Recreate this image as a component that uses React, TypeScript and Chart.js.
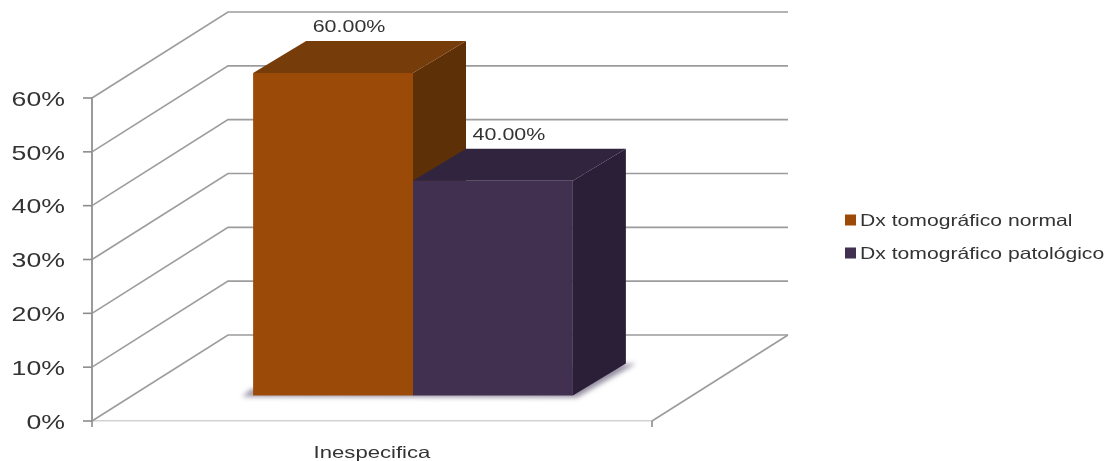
import { useEffect, useRef } from "react";
import { Chart, registerables } from "chart.js";

Chart.register(...registerables);

const categories = ["Inespecifica"];
const seriesNames = ["Dx tomográfico normal", "Dx tomográfico patológico"];
const normalValues = [60];
const pathologicValues = [40];
const valueLabels = ["60.00%", "40.00%"];

const FRONT_COLORS = ["#9C4A07", "#413050"];
const TOP_COLORS = ["#763D0A", "#31243F"];
const SIDE_COLORS = ["#5E3007", "#2A1F37"];
const GRID_COLOR = "#9c9c9c";
const TEXT_COLOR = "#333333";
const FONT_FAMILY = '"Liberation Sans", Arial, sans-serif';

// Oblique projection used for the walls and for the bars standing on the floor.
const WALL_DEPTH = { x: 136, y: -86 };
const BAR_OFFSET = { x: 41, y: -25 };
const BAR_DEPTH = { x: 53, y: -32 };

// Widened text, as the chart's captions are drawn broader than the typeface.
function wideText(
  ctx: CanvasRenderingContext2D,
  text: string,
  x: number,
  y: number,
  size: number,
  stretch: number,
  align: CanvasTextAlign,
) {
  ctx.save();
  ctx.translate(x, y);
  ctx.scale(stretch, 1);
  ctx.font = `${size}px ${FONT_FAMILY}`;
  ctx.fillStyle = TEXT_COLOR;
  ctx.textAlign = align;
  ctx.textBaseline = "middle";
  ctx.fillText(text, 0, 0);
  ctx.restore();
}

function polygon(ctx: CanvasRenderingContext2D, pts: number[][], fill: string) {
  ctx.fillStyle = fill;
  ctx.beginPath();
  pts.forEach(([x, y], i) => (i ? ctx.lineTo(x, y) : ctx.moveTo(x, y)));
  ctx.closePath();
  ctx.fill();
}

const perspective = {
  id: "perspective",
  beforeDraw(chart: any) {
    const { ctx, width, height } = chart;
    ctx.save();
    ctx.fillStyle = "#ffffff";
    ctx.fillRect(0, 0, width, height);
    ctx.restore();
  },
  beforeDatasetsDraw(chart: any) {
    const { ctx, chartArea, scales } = chart;
    const { left, right, bottom } = chartArea;

    // Side wall, back wall and the right edge of the floor.
    ctx.save();
    ctx.strokeStyle = GRID_COLOR;
    ctx.lineWidth = 1.6;
    scales.y.ticks.forEach((tick: any) => {
      const py = scales.y.getPixelForValue(tick.value);
      ctx.beginPath();
      ctx.moveTo(left, py);
      ctx.lineTo(left + WALL_DEPTH.x, py + WALL_DEPTH.y);
      ctx.lineTo(right + WALL_DEPTH.x, py + WALL_DEPTH.y);
      ctx.stroke();
    });
    ctx.beginPath();
    ctx.moveTo(right, bottom);
    ctx.lineTo(right + WALL_DEPTH.x, bottom + WALL_DEPTH.y);
    ctx.stroke();

    // Tick marks on both axes.
    ctx.strokeStyle = "#8c8c8c";
    ctx.lineWidth = 1.6;
    scales.y.ticks.forEach((tick: any) => {
      const py = scales.y.getPixelForValue(tick.value);
      ctx.beginPath();
      ctx.moveTo(left - 9, py);
      ctx.lineTo(left, py);
      ctx.stroke();
    });
    [left, right].forEach((px: number) => {
      ctx.beginPath();
      ctx.moveTo(px, bottom);
      ctx.lineTo(px, bottom + 6);
      ctx.stroke();
    });
    ctx.restore();

    const bars = chart.data.datasets.map((_: any, i: number) => chart.getDatasetMeta(i).data[0]);
    const geom = bars.map((bar: any) => {
      const half = bar.width / 2;
      return {
        l: bar.x - half + BAR_OFFSET.x,
        r: bar.x + half + BAR_OFFSET.x,
        t: bar.y + BAR_OFFSET.y,
        b: bar.base + BAR_OFFSET.y,
      };
    });

    // Soft shadow on the floor under the bars.
    const first = geom[0];
    const last = geom[geom.length - 1];
    ctx.save();
    ctx.filter = "blur(2.5px)";
    polygon(
      ctx,
      [
        [first.l - 11, first.b + 1],
        [first.l - 2, first.b - 6],
        [last.r + BAR_DEPTH.x + 10, last.b + BAR_DEPTH.y],
        [last.r + 4, last.b + 2],
      ],
      "rgba(80,70,100,0.6)",
    );
    ctx.restore();

    // Top and side faces, from the left bar to the right one.
    geom.forEach((g: any, i: number) => {
      const dx = BAR_DEPTH.x;
      const dy = BAR_DEPTH.y;
      polygon(ctx, [[g.r, g.t], [g.r + dx, g.t + dy], [g.r + dx, g.b + dy], [g.r, g.b]], SIDE_COLORS[i]);
      polygon(ctx, [[g.l, g.t], [g.l + dx, g.t + dy], [g.r + dx, g.t + dy], [g.r, g.t]], TOP_COLORS[i]);
    });

    // The front faces themselves are the chart's own bars, moved onto the floor.
    ctx.save();
    ctx.translate(BAR_OFFSET.x, BAR_OFFSET.y);
  },
  afterDatasetsDraw(chart: any) {
    const { ctx, scales, data } = chart;
    ctx.restore();

    // Value captions above each bar.
    data.datasets.forEach((_: any, i: number) => {
      const bar = chart.getDatasetMeta(i).data[0];
      wideText(ctx, valueLabels[i], bar.x + BAR_OFFSET.x + 16, bar.y + BAR_OFFSET.y - 45.5, 16.5, 1.3, "center");
    });

    // Axis labels.
    scales.y.ticks.forEach((tick: any) => {
      wideText(ctx, tick.label, 65, scales.y.getPixelForValue(tick.value) + 2, 21, 1.27, "right");
    });
    scales.x.ticks.forEach((tick: any, i: number) => {
      wideText(ctx, tick.label, scales.x.getPixelForTick(i), 453.5, 16.5, 1.34, "center");
    });

    // Legend entries.
    const legendY = [220, 253];
    data.datasets.forEach((ds: any, i: number) => {
      ctx.fillStyle = FRONT_COLORS[i];
      ctx.fillRect(845, legendY[i] - 5.5, 11, 11);
      wideText(ctx, ds.label, 860, legendY[i] + 1.5, 16.5, 1.28, "left");
    });
  },
};

export default function App() {
  const ref = useRef<HTMLCanvasElement>(null);

  useEffect(() => {
    const chart = new Chart(ref.current!, {
      type: "bar",
      data: {
        labels: categories,
        datasets: [
          { label: seriesNames[0], data: normalValues, backgroundColor: FRONT_COLORS[0] },
          { label: seriesNames[1], data: pathologicValues, backgroundColor: FRONT_COLORS[1] },
        ],
      },
      options: {
        responsive: false,
        animation: false,
        layout: { padding: { top: 98, right: 467, left: 0, bottom: 0 } },
        datasets: { bar: { categoryPercentage: 0.571, barPercentage: 1, clip: false } },
        plugins: { legend: { display: false }, tooltip: { enabled: false } },
        scales: {
          x: {
            afterFit: (s: any) => {
              s.height = 40;
            },
            ticks: { display: false },
            border: { color: "#d2d2d2", width: 1.5 },
            grid: { drawOnChartArea: false, drawTicks: false },
          },
          y: {
            min: 0,
            max: 60,
            afterFit: (s: any) => {
              s.width = 92;
            },
            ticks: { display: false, stepSize: 10, callback: (v: any) => `${v}%` },
            border: { color: "#9a9a9a", width: 2 },
            grid: { drawOnChartArea: false, drawTicks: false },
          },
        },
      },
      plugins: [perspective],
    } as any);
    return () => chart.destroy();
  }, []);

  return (
    <div style={{ position: "absolute", left: 0, top: 0, width: 1119, height: 461, background: "#fff" }}>
      <canvas ref={ref} width={1119} height={461} style={{ display: "block" }} />
    </div>
  );
}
